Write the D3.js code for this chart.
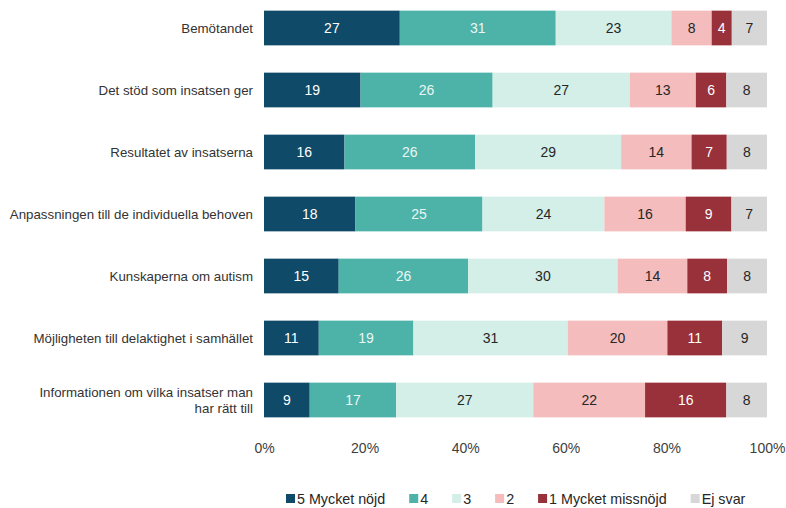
<!DOCTYPE html>
<html>
<head>
<meta charset="utf-8">
<script src="https://cdn.jsdelivr.net/npm/d3@7"></script>
<style>
  body { margin: 0; background: #fff; }
  svg { font-family: "Liberation Sans", Arial, sans-serif; }
</style>
</head>
<body>
<svg width="786" height="508"></svg>
<script>
const width = 786
const height = 508

const categories = [
  "Bemötandet",
  "Det stöd som insatsen ger",
  "Resultatet av insatserna",
  "Anpassningen till de individuella behoven",
  "Kunskaperna om autism",
  "Möjligheten till delaktighet i samhället",
  "Informationen om vilka insatser man har rätt till"
]
const series = ["5 Mycket nöjd", "4", "3", "2", "1 Mycket missnöjd", "Ej svar"]
const v5 = [27, 19, 16, 18, 15, 11, 9]
const v4 = [31, 26, 26, 25, 26, 19, 17]
const v3 = [23, 27, 29, 24, 30, 31, 27]
const v2 = [8, 13, 14, 16, 14, 20, 22]
const v1 = [4, 6, 7, 9, 8, 11, 16]
const vEj = [7, 8, 8, 7, 8, 9, 8]
const ticks = [0, 0.2, 0.4, 0.6, 0.8, 1]

const colors = ["#0f4b69", "#4db3a8", "#d3efe8", "#f4bcbc", "#983139", "#d7d7d7"]
const textColors = ["#ffffff", "#eaf6f4", "#262626", "#262626", "#ffffff", "#262626"]

const allVals = [v5, v4, v3, v2, v1, vEj]
const table = categories.map(function(c, i){
  const row = {cat: c}
  series.forEach(function(s, j){ row[s] = allVals[j][i] })
  return row
})

const stacked = d3.stack().keys(series).offset(d3.stackOffsetExpand)(table)

const x = d3.scaleLinear().domain([0, 1]).range([264, 767])
const y = d3.scaleBand().domain(categories).range([-3, 431]).paddingInner(0.44).paddingOuter(0.22)

const svg = d3.select("svg")

// bars
const layer = svg.append("g").selectAll("g").data(stacked).enter().append("g")
  .attr("fill", function(d, i){ return colors[i] })

layer.selectAll("rect").data(function(d){ return d }).enter().append("rect")
  .attr("x", function(d){ return x(d[0]) })
  .attr("y", function(d){ return y(d.data.cat) })
  .attr("width", function(d){ return x(d[1]) - x(d[0]) })
  .attr("height", y.bandwidth())

// value labels
stacked.forEach(function(s, i){
  svg.append("g").selectAll("text").data(s).enter().append("text")
    .attr("x", function(d){ return (x(d[0]) + x(d[1])) / 2 })
    .attr("y", function(d){ return y(d.data.cat) + y.bandwidth() / 2 })
    .attr("dy", "0.35em")
    .attr("text-anchor", "middle")
    .attr("font-size", 14)
    .attr("fill", textColors[i])
    .text(function(d){ return d.data[s.key] })
})

// category labels
const wrapAt = {"Informationen om vilka insatser man har rätt till": ["Informationen om vilka insatser man", "har rätt till"]}
categories.forEach(function(c){
  const lines = wrapAt[c] || [c]
  const t = svg.append("text")
    .attr("x", 253)
    .attr("y", y(c) + y.bandwidth() / 2 - (lines.length - 1) * 8)
    .attr("text-anchor", "end")
    .attr("font-size", 13.3)
    .attr("fill", "#333")
  lines.forEach(function(l, k){
    t.append("tspan").attr("x", 253).attr("dy", k === 0 ? "0.35em" : 16).text(l)
  })
})

// x axis
const xAxis = svg.append("g").attr("transform", "translate(0,440)")
  .call(d3.axisBottom(x).tickValues(ticks).tickFormat(d3.format(".0%")).tickSize(0))
xAxis.select(".domain").remove()
xAxis.selectAll("text").attr("font-size", 14).attr("fill", "#404040")
  .attr("font-family", "Liberation Sans, Arial, sans-serif")

// legend
const legend = svg.append("g").attr("transform", "translate(286,499)")
let lx = 0
series.forEach(function(s, i){
  const g = legend.append("g").attr("transform", "translate(" + lx + ",0)")
  g.append("rect").attr("x", 0).attr("y", -5).attr("width", 9).attr("height", 9).attr("fill", colors[i])
  const t = g.append("text").attr("x", 11).attr("dy", "0.35em").attr("font-size", 14.3)
    .attr("fill", "#262626").text(s)
  lx += 11 + t.node().getComputedTextLength() + 24
})
</script>
</body>
</html>
